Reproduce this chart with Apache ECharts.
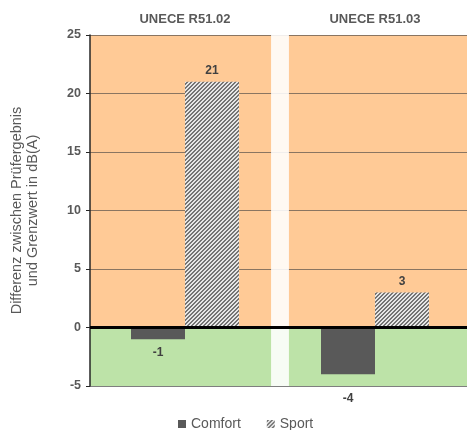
<!DOCTYPE html>
<html>
<head>
<meta charset="utf-8">
<script src="https://cdn.jsdelivr.net/npm/echarts@6/dist/echarts.min.js"></script>
<style>
  html, body { margin: 0; padding: 0; background: #ffffff; }
  #chart { width: 467px; height: 430px; }
</style>
</head>
<body>
<div id="chart"></div>
<script>
// Regulation stages shown as panels
const categories = ['UNECE R51.02', 'UNECE R51.03'];
// Difference between test result and limit, dB(A)
const comfortValues = [-1, -4];
const sportValues = [21, 3];
// Value axis range
const yMin = -5;
const yMax = 25;
const yStep = 5;

// Diagonal hatch used for the "Sport" bars
function hatchPattern() {
  const size = 4;
  const c = document.createElement('canvas');
  c.width = size; c.height = size;
  const ctx = c.getContext('2d');
  const img = ctx.createImageData(size, size);
  for (let y = 0; y < size; y++) {
    for (let x = 0; x < size; x++) {
      const dark = ((x + y) % size) < 2;
      const v = dark ? 0x74 : 0xe6;
      const i = (y * size + x) * 4;
      img.data[i] = v; img.data[i + 1] = v; img.data[i + 2] = v; img.data[i + 3] = 255;
    }
  }
  ctx.putImageData(img, 0, 0);
  return { image: c, repeat: 'repeat' };
}

const textGray = '#595959';
const labelDark = '#404040';
const fontStack = 'Liberation Sans, Arial, sans-serif';

function valueLabel(v, dist) {
  return {
    value: v,
    label: {
      show: true,
      position: v < 0 ? 'bottom' : 'top',
      distance: dist,
      fontWeight: 'bold',
      fontSize: 12,
      color: labelDark,
      fontFamily: fontStack
    }
  };
}

const chart = echarts.init(document.getElementById('chart'), null, { renderer: 'canvas' });

chart.setOption({
  animation: false,
  textStyle: { fontFamily: fontStack },
  grid: { left: 90, right: -3, top: 35, bottom: 44, containLabel: false, outerBoundsMode: 'none' },
  legend: {
    left: 173,
    top: 412,
    itemWidth: 8,
    itemHeight: 8,
    itemGap: 26,
    icon: 'rect',
    textStyle: { color: textGray, fontSize: 14, fontFamily: fontStack },
    data: ['Comfort', 'Sport']
  },
  xAxis: [
    {
      type: 'category',
      data: categories,
      position: 'top',
      axisLine: { show: false },
      axisTick: { show: false },
      axisLabel: { margin: 9, fontWeight: 'bold', fontSize: 13, color: textGray }
    },
    { type: 'value', min: 0, max: 2, show: false }
  ],
  yAxis: {
    type: 'value',
    min: yMin,
    max: yMax,
    interval: yStep,
    name: 'Differenz zwischen Prüfergebnis\nund Grenzwert in dB(A)',
    nameLocation: 'middle',
    nameGap: 49,
    nameTextStyle: { color: textGray, fontSize: 14.5, lineHeight: 16 },
    axisLine: { show: true, lineStyle: { color: '#262626', width: 1.5 } },
    axisTick: { show: true, length: 4, lineStyle: { color: '#262626' } },
    axisLabel: { margin: 9, fontWeight: 'bold', fontSize: 12.5, color: textGray },
    splitArea: {
      show: true,
      areaStyle: { color: ['#bde3a8', '#ffca96', '#ffca96', '#ffca96', '#ffca96', '#ffca96'] }
    },
    splitLine: {
      show: true,
      lineStyle: { color: ['#7f7f7f', '#000000', '#8a7561', '#8a7561', '#8a7561', '#8a7561', '#8a7561'], width: 1 }
    }
  },
  series: [
    {
      name: 'Comfort',
      type: 'bar',
      barWidth: 54,
      barGap: '0%',
      itemStyle: { color: '#595959' },
      data: [valueLabel(comfortValues[0], 7), valueLabel(comfortValues[1], 18)]
    },
    {
      name: 'Sport',
      type: 'bar',
      barWidth: 54,
      barGap: '0%',
      itemStyle: { color: hatchPattern() },
      data: [valueLabel(sportValues[0], 5), valueLabel(sportValues[1], 5)]
    },
    {
      // light separator between the two regulation panels
      type: 'line',
      xAxisIndex: 1,
      z: 3,
      silent: true,
      data: [],
      markArea: {
        silent: true,
        itemStyle: { color: 'rgba(255,255,255,0.88)' },
        data: [[{ xAxis: 0.953 }, { xAxis: 1.047 }]]
      }
    },
    {
      // emphasised zero line
      type: 'line',
      xAxisIndex: 1,
      z: 4,
      silent: true,
      data: [],
      markLine: {
        silent: true,
        symbol: 'none',
        label: { show: false },
        lineStyle: { color: '#000000', width: 3, type: 'solid' },
        data: [{ yAxis: 0 }]
      }
    }
  ]
});
</script>
</body>
</html>
